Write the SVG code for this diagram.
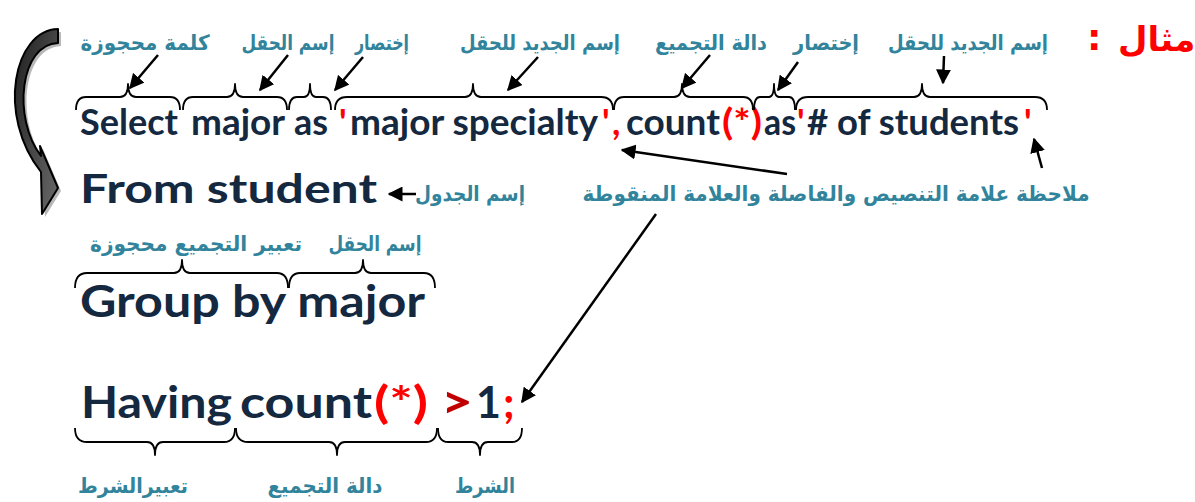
<svg xmlns="http://www.w3.org/2000/svg" width="1195" height="502" viewBox="0 0 1195 502">
  <style>
    .code { font-family: Lato, "Open Sans", sans-serif; font-weight: bold; fill: #14283f; }
    .red { fill: #ff0000; }
    .dred { fill: #c00000; }
    .lbl { font-family: "DejaVu Sans", sans-serif; font-weight: bold; font-size: 21px; fill: #31849b; text-anchor: middle; }
    .brace { fill: none; stroke: #000; stroke-width: 1.8; stroke-linejoin: round; }
    .arr { fill: none; stroke: #000; stroke-width: 2.5; marker-end: url(#head); }
  </style>
  <defs>
    <marker id="head" viewBox="0 0 10 10" refX="9" refY="5" markerWidth="6" markerHeight="6" orient="auto" markerUnits="strokeWidth">
      <path d="M0,0 L10,5 L0,10 Z" fill="#000"/>
    </marker>
    <linearGradient id="bandFill" x1="0" y1="0" x2="1" y2="1">
      <stop offset="0" stop-color="#1e1e1e"/>
      <stop offset="1" stop-color="#6a6a6a"/>
    </linearGradient>
  </defs>
  <rect width="1195" height="502" fill="#fff"/>

  <!-- heading -->
  <g id="title">
    <text x="1118" y="51" font-family="'DejaVu Sans', sans-serif" font-weight="bold" font-size="34" fill="#ff0000">مثال</text>
    <text x="1087" y="50" font-family="'DejaVu Sans', sans-serif" font-weight="bold" font-size="36" fill="#ff0000">:</text>
  </g>

  <!-- curved flow arrow from SELECT to FROM -->
  <g id="flow-arrow">
    <path d="M61,32 C17,33 -1,118 44,175 L45,217 L61,191 L43,149 L44,159 C15,121 23,47 61,46 Z" fill="#9a9a9a" opacity="0.7"/>
    <path d="M58,29 C14,30 -4,115 41,172 L42,214 L58,188 L40,146 L41,156 C12,118 20,44 58,43 Z" fill="url(#bandFill)" stroke="#000" stroke-width="2" stroke-linejoin="round"/>
  </g>

  <!-- SELECT line -->
  <g id="select-line">
    <text class="code" font-size="36" y="135" x="80" textLength="98" lengthAdjust="spacingAndGlyphs">Select</text>
    <text class="code" font-size="36" y="135" x="191" textLength="94" lengthAdjust="spacingAndGlyphs">major</text>
    <text class="code" font-size="36" y="135" x="294" textLength="34" lengthAdjust="spacingAndGlyphs">as</text>
    <text class="code red" font-size="36" y="135" x="339">'</text>
    <text class="code" font-size="36" y="135" x="350" textLength="248" lengthAdjust="spacingAndGlyphs">major specialty</text>
    <text class="code red" font-size="36" y="135" x="602">'</text>
    <text class="code red" font-size="36" y="135" x="612">,</text>
    <text class="code" font-size="36" y="135" x="626" textLength="94" lengthAdjust="spacingAndGlyphs">count</text>
    <text class="code red" font-size="36" y="135" x="722" textLength="40" lengthAdjust="spacingAndGlyphs">(*)</text>
    <text class="code" font-size="36" y="135" x="764" textLength="32" lengthAdjust="spacingAndGlyphs">as</text>
    <text class="code red" font-size="36" y="135" x="797">'</text>
    <text class="code" font-size="36" y="135" x="807" textLength="212" lengthAdjust="spacingAndGlyphs"># of students</text>
    <text class="code red" font-size="36" y="135" x="1024">'</text>
  </g>

  <g id="from-line">
    <text class="code" font-size="41" x="80" y="203" textLength="297" lengthAdjust="spacingAndGlyphs">From student</text>
  </g>

  <g id="group-line">
    <text class="code" font-size="43" x="80" y="317" textLength="345" lengthAdjust="spacingAndGlyphs">Group by major</text>
  </g>

  <g id="having-line">
    <text class="code" font-size="43" x="81" y="418" textLength="151" lengthAdjust="spacingAndGlyphs">Having</text>
    <text class="code" font-size="43" x="240" y="418" textLength="132" lengthAdjust="spacingAndGlyphs">count</text>
    <text class="code red" font-size="43" x="374" y="418" textLength="54" lengthAdjust="spacingAndGlyphs">(*)</text>
    <text class="code dred" font-size="46" x="441" y="418" textLength="32" lengthAdjust="spacingAndGlyphs">&gt;</text>
    <text class="code" font-size="43" x="476" y="418">1</text>
    <text class="code red" font-size="43" x="503" y="418">;</text>
  </g>

  <!-- braces -->
  <g id="braces">
    <path class="brace" d="M76,110 Q76,97 86,97 L120,97 Q128,97 128,84 Q128,97 136,97 L170,97 Q180,97 180,110"/>
    <path class="brace" d="M183,110 Q183,97 193,97 L227,97 Q235,97 235,84 Q235,97 243,97 L277,97 Q287,97 287,110"/>
    <path class="brace" d="M289,110 Q289,97 297,97 L304,97 Q310,97 310,84 Q310,97 316,97 L323,97 Q331,97 331,110"/>
    <path class="brace" d="M335,110 Q335,97 347,97 L465,97 Q473,97 473,84 Q473,97 481,97 L601,97 Q613,97 613,110"/>
    <path class="brace" d="M614,110 Q614,97 624,97 L674,97 Q682,97 682,84 Q682,97 690,97 L743,97 Q753,97 753,110"/>
    <path class="brace" d="M754,110 Q754,97 760,97 L769,97 Q774,97 774,84 Q774,97 779,97 L789,97 Q795,97 795,110"/>
    <path class="brace" d="M796,110 Q796,97 808,97 L914,97 Q922,97 922,84 Q922,97 930,97 L1035,97 Q1047,97 1047,110"/>

    <path class="brace" d="M75,288 Q75,273 87,273 L174,273 Q182,273 182,260 Q182,273 190,273 L277,273 Q288,273 288,288"/>
    <path class="brace" d="M289,288 Q289,273 300,273 L355,273 Q363,273 363,260 Q363,273 371,273 L424,273 Q435,273 435,288"/>

    <path class="brace" d="M75,428 Q75,442 87,442 L147,442 Q155,442 155,455 Q155,442 163,442 L224,442 Q235,442 235,428"/>
    <path class="brace" d="M236,428 Q236,442 248,442 L329,442 Q337,442 337,455 Q337,442 345,442 L426,442 Q437,442 437,428"/>
    <path class="brace" d="M438,428 Q438,442 448,442 L472,442 Q480,442 480,455 Q480,442 488,442 L512,442 Q522,442 522,428"/>
  </g>

  <!-- labels -->
  <g id="label-reserved"><text class="lbl" x="145" y="50" textLength="129" lengthAdjust="spacingAndGlyphs">كلمة محجوزة</text></g>
  <g id="label-field"><text class="lbl" x="288" y="50" textLength="93" lengthAdjust="spacingAndGlyphs">إسم الحقل</text></g>
  <g id="label-alias1"><text class="lbl" x="382" y="50" textLength="54" lengthAdjust="spacingAndGlyphs">إختصار</text></g>
  <g id="label-newname1"><text class="lbl" x="540" y="50" textLength="160" lengthAdjust="spacingAndGlyphs">إسم الجديد للحقل</text></g>
  <g id="label-aggfunc1"><text class="lbl" x="711" y="50" textLength="112" lengthAdjust="spacingAndGlyphs">دالة التجميع</text></g>
  <g id="label-alias2"><text class="lbl" x="826" y="50" textLength="66" lengthAdjust="spacingAndGlyphs">إختصار</text></g>
  <g id="label-newname2"><text class="lbl" x="968" y="50" textLength="160" lengthAdjust="spacingAndGlyphs">إسم الجديد للحقل</text></g>
  <g id="label-table"><text class="lbl" x="470" y="201" textLength="110" lengthAdjust="spacingAndGlyphs">إسم الجدول</text></g>
  <g id="label-note"><text class="lbl" x="836" y="201" textLength="507" lengthAdjust="spacingAndGlyphs">ملاحظة علامة التنصيص والفاصلة والعلامة المنقوطة</text></g>
  <g id="label-groupexpr"><text class="lbl" x="196" y="251" textLength="212" lengthAdjust="spacingAndGlyphs">تعبير التجميع محجوزة</text></g>
  <g id="label-field2"><text class="lbl" x="375" y="251" textLength="93" lengthAdjust="spacingAndGlyphs">إسم الحقل</text></g>
  <g id="label-condexpr"><text class="lbl" x="133" y="493" textLength="110" lengthAdjust="spacingAndGlyphs">تعبيرالشرط</text></g>
  <g id="label-aggfunc2"><text class="lbl" x="325" y="493" textLength="115" lengthAdjust="spacingAndGlyphs">دالة التجميع</text></g>
  <g id="label-cond"><text class="lbl" x="485" y="493" textLength="60" lengthAdjust="spacingAndGlyphs">الشرط</text></g>

  <!-- connectors -->
  <g id="connectors">
    <line class="arr" x1="158" y1="55" x2="130" y2="88"/>
    <line class="arr" x1="288" y1="55" x2="260" y2="90"/>
    <line class="arr" x1="363" y1="57" x2="335" y2="90"/>
    <line class="arr" x1="538" y1="57" x2="508" y2="90"/>
    <line class="arr" x1="710" y1="55" x2="682" y2="88"/>
    <line class="arr" x1="798" y1="62" x2="778" y2="90"/>
    <line class="arr" x1="944" y1="56" x2="943" y2="83"/>
    <line class="arr" x1="416" y1="194" x2="389" y2="194"/>
    <line class="arr" x1="787" y1="174" x2="622" y2="150"/>
    <line class="arr" x1="1042" y1="168" x2="1034" y2="139"/>
    <line class="arr" x1="656" y1="214" x2="522" y2="402"/>
  </g>
</svg>
